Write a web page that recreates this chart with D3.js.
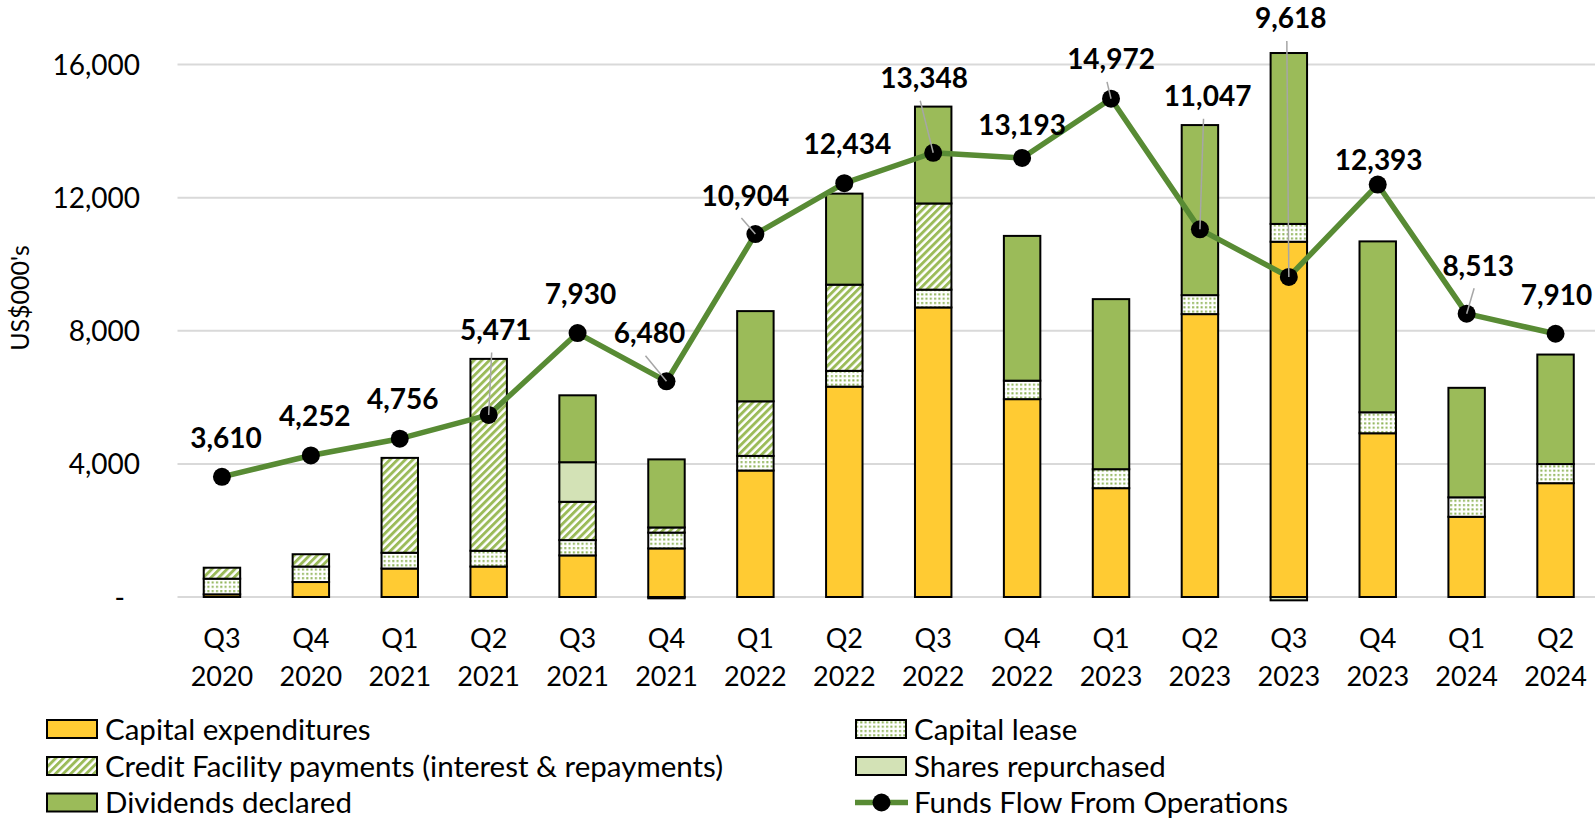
<!DOCTYPE html>
<html><head><meta charset="utf-8">
<script src="https://cdn.jsdelivr.net/npm/d3@7"></script>
<style>html,body{margin:0;padding:0;background:#fff;} svg{display:block;}</style>
</head><body>
<svg id="chart" width="1595" height="823"></svg>
<script>
// ---------- DATA ----------
const categories = ["Q3 2020","Q4 2020","Q1 2021","Q2 2021","Q3 2021","Q4 2021","Q1 2022","Q2 2022",
  "Q3 2022","Q4 2022","Q1 2023","Q2 2023","Q3 2023","Q4 2023","Q1 2024","Q2 2024"];
const capex     = [80, 450, 855, 915, 1250, 1460, 3800, 6320, 8700, 5945, 3270, 8500, 10675, 4920, 2410, 3420];
const lease     = [470, 465, 475, 475, 460, 475, 440, 475, 535, 555, 570, 570, 535, 630, 585, 575];
const credit    = [330, 370, 2850, 5765, 1150, 155, 1640, 2590, 2590, 0, 0, 0, 0, 0, 0, 0];
const shares    = [0, 0, 0, 0, 1190, -40, 0, 0, 0, 0, 0, 0, -100, 0, 0, 0];
const dividends = [0, 0, 0, 0, 2010, 2045, 2710, 2735, 2910, 4350, 5110, 5110, 5135, 5135, 3290, 3290];
const ffo       = [3610, 4252, 4756, 5471, 7930, 6480, 10904, 12434, 13348, 13193, 14972, 11047, 9618, 12393, 8513, 7910];
const yTicks = [0, 4000, 8000, 12000, 16000];
const seriesNames = ["Capital expenditures", "Capital lease", "Credit Facility payments (interest & repayments)",
  "Shares repurchased", "Dividends declared"];
const lineName = "Funds Flow From Operations";
const yTitle = "US$000's";

// ---------- LAYOUT (label placement, px offsets from point) ----------
const labelOffsets = [[4,-39],[4,-40],[3,-40],[7,-85],[3,-39],[-17,-48],[-10,-38.5],[3,-39],
  [-9,-74.5],[0,-33],[0,-39.4],[7.6,-133],[2,-258.5],[1,-25],[11.5,-48],[1,-39.3]];
const hasLeader = [false,false,false,true,false,true,true,false,true,false,true,true,true,false,true,false];

// ---------- STYLE ----------
const FONT = "Lato, 'Open Sans', sans-serif";
const FS = 28;
const LFS = 29.5;
const colors = {capex:"#FFCB33", dots:"#8DB254", hatch:"#9BBB59", shares:"#D3E2B6", div:"#9BBB59", line:"#588B34"};

const svg = d3.select("#chart");
const defs = svg.append("defs");
const pd = defs.append("pattern").attr("id","dots").attr("patternUnits","userSpaceOnUse")
  .attr("width",4.3).attr("height",4.3);
pd.append("rect").attr("width",4.3).attr("height",4.3).attr("fill","#fff");
pd.append("rect").attr("x",1).attr("y",1).attr("width",2).attr("height",2).attr("fill",colors.dots);
const ph = defs.append("pattern").attr("id","hatch").attr("patternUnits","userSpaceOnUse")
  .attr("width",5.4).attr("height",5.4).attr("patternTransform","rotate(45)");
ph.append("rect").attr("width",5.4).attr("height",5.4).attr("fill","#fff");
ph.append("rect").attr("x",0).attr("width",2.9).attr("height",5.4).attr("fill",colors.hatch);

const fills = [colors.capex, "url(#dots)", "url(#hatch)", colors.shares, colors.div];

const x = d3.scaleBand().domain(categories).range([177.5, 1600]).paddingInner(0.59).paddingOuter(0.295);
const y = d3.scaleLinear().domain([0, 16000]).range([597, 64.5]);
const cx = c => x(c) + x.bandwidth()/2;

// gridlines
svg.append("g").selectAll("line").data(yTicks).join("line")
  .attr("x1",177.5).attr("x2",1600).attr("y1",d=>y(d)).attr("y2",d=>y(d))
  .attr("stroke","#d9d9d9").attr("stroke-width",2);

// y axis labels
const yAxis = svg.append("g").attr("transform","translate(140,0)")
  .call(d3.axisLeft(y).tickValues(yTicks).tickSize(0).tickPadding(0)
    .tickFormat(d => d === 0 ? "-" : d3.format(",")(d)));
yAxis.select(".domain").remove();
yAxis.selectAll("text").attr("font-family",FONT).attr("font-size",FS).attr("fill","#000")
  .attr("dy","0.36em").attr("dx", d => d === 0 ? -15 : 0);

// y title
svg.append("text").attr("transform","translate(29,298) rotate(-90)").attr("text-anchor","middle")
  .attr("font-family",FONT).attr("font-size",25).attr("fill","#000").text(yTitle);

// x axis labels
const xAxis = svg.append("g").attr("transform","translate(0,597)")
  .call(d3.axisBottom(x).tickSize(0));
xAxis.select(".domain").remove();
xAxis.selectAll(".tick text").each(function(d){
  const parts = d.split(" ");
  const t = d3.select(this).text(null).attr("dy",null).attr("y",null)
    .attr("font-family",FONT).attr("font-size",27).attr("fill","#000");
  t.append("tspan").attr("x",0).attr("y",51).text(parts[0]);
  t.append("tspan").attr("x",0).attr("y",89).text(parts[1]);
});

// stacked bars
const keys = ["capex","lease","credit","shares","dividends"];
const rows = categories.map((c,i)=>({cat:c, capex:capex[i], lease:lease[i], credit:credit[i], shares:shares[i], dividends:dividends[i]}));
const stacked = d3.stack().keys(keys).offset(d3.stackOffsetDiverging)(rows);
svg.append("g").selectAll("g").data(stacked).join("g")
  .attr("fill",(d,i)=>fills[i])
  .selectAll("rect").data(d=>d.filter(s=>s[1]!==s[0])).join("rect")
  .attr("x",d=>x(d.data.cat)).attr("width",x.bandwidth())
  .attr("y",d=>y(Math.max(d[0],d[1]))).attr("height",d=>Math.abs(y(d[0])-y(d[1])))
  .attr("stroke","#000").attr("stroke-width",2);

// FFO line
svg.append("path").datum(ffo)
  .attr("d", d3.line().x((v,i)=>cx(categories[i])).y(v=>y(v)))
  .attr("fill","none").attr("stroke",colors.line).attr("stroke-width",5.5).attr("stroke-linejoin","round");
svg.append("g").selectAll("circle").data(ffo).join("circle")
  .attr("cx",(v,i)=>cx(categories[i])).attr("cy",v=>y(v)).attr("r",9).attr("fill","#000");

// leaders
svg.append("g").selectAll("line").data(ffo.map((v,i)=>({v,i})).filter(d=>hasLeader[d.i])).join("line")
  .attr("x1",d=>cx(categories[d.i])+labelOffsets[d.i][0]-4).attr("y1",d=>y(d.v)+labelOffsets[d.i][1]+22.5)
  .attr("x2",d=>cx(categories[d.i])).attr("y2",d=>y(d.v))
  .attr("stroke","#a6a6a6").attr("stroke-width",1.5);

// data labels
svg.append("g").selectAll("text").data(ffo).join("text")
  .attr("x",(v,i)=>cx(categories[i])+labelOffsets[i][0])
  .attr("y",(v,i)=>y(v)+labelOffsets[i][1]+0.36*FS)
  .attr("text-anchor","middle").attr("font-family",FONT).attr("font-size",FS).attr("font-weight","bold")
  .attr("fill","#000").text(v=>d3.format(",")(v));

// legend
const legendItems = [
  {name:seriesNames[0], fill:fills[0], col:0, row:0},
  {name:seriesNames[1], fill:fills[1], col:1, row:0},
  {name:seriesNames[2], fill:fills[2], col:0, row:1},
  {name:seriesNames[3], fill:fills[3], col:1, row:1},
  {name:seriesNames[4], fill:fills[4], col:0, row:2},
  {name:lineName, line:true, col:1, row:2}
];
const colX = [46, 855], rowY = [729, 766, 802.5];
const lg = svg.append("g").selectAll("g").data(legendItems).join("g")
  .attr("transform",d=>`translate(${colX[d.col]},${rowY[d.row]})`);
lg.filter(d=>!d.line).append("rect").attr("x",1).attr("y",-9).attr("width",50).attr("height",18)
  .attr("fill",d=>d.fill).attr("stroke","#000").attr("stroke-width",2);
lg.filter(d=>d.line).append("line").attr("x1",0).attr("x2",53).attr("y1",0).attr("y2",0)
  .attr("stroke",colors.line).attr("stroke-width",5.5);
lg.filter(d=>d.line).append("circle").attr("cx",26.5).attr("cy",0).attr("r",9).attr("fill","#000");
lg.append("text").attr("x",59).attr("y",0.36*LFS).attr("font-family",FONT).attr("font-size",LFS)
  .attr("fill","#000").text(d=>d.name);
</script>
</body></html>
